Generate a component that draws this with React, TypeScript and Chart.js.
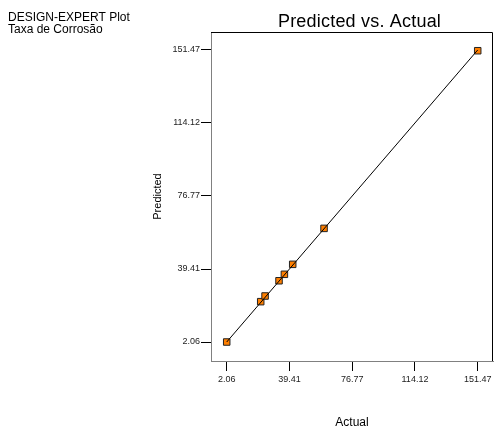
import React, { useEffect, useRef } from "react";
import { Chart, registerables } from "chart.js";

Chart.register(...registerables);

const actual = [2.06, 22.3, 24.9, 33.2, 36.4, 41.35, 60.0, 151.47];
const predicted = [2.06, 22.7, 25.6, 33.4, 36.7, 41.8, 60.2, 151.1];
const tickValues = [2.06, 39.41, 76.77, 114.12, 151.47];
const tickLabels = ["2.06", "39.41", "76.77", "114.12", "151.47"];
const lineEnds = [2.06, 151.47];

const FONT = "'Liberation Sans', Arial, Helvetica, sans-serif";

const decorPlugin = {
  id: "decor",
  beforeDatasetsDraw(chart: any) {
    const { ctx, chartArea } = chart;
    const { left, right, top, bottom } = chartArea;
    ctx.save();
    ctx.strokeStyle = "#000";
    ctx.lineWidth = 1;
    ctx.beginPath();
    ctx.moveTo(left, Math.round(top) + 0.5);
    ctx.lineTo(Math.round(right) - 0.5, Math.round(top) + 0.5);
    ctx.lineTo(Math.round(right) - 0.5, bottom);
    ctx.stroke();
    ctx.restore();
  },
  afterDraw(chart: any) {
    const { ctx } = chart;
    ctx.save();
    ctx.fillStyle = "#000";
    ctx.textBaseline = "alphabetic";
    ctx.textAlign = "left";
    ctx.font = `12px ${FONT}`;
    ctx.fillText("DESIGN-EXPERT Plot", 8, 20.5);
    ctx.fillText("Taxa de Corrosão", 8, 33);
    ctx.textAlign = "center";
    ctx.font = `18px ${FONT}`;
    (ctx as any).letterSpacing = "0.2px";
    ctx.fillText("Predicted vs. Actual", 359.5, 26.5);
    ctx.restore();
  },
};

export default function App() {
  const ref = useRef<HTMLCanvasElement | null>(null);
  useEffect(() => {
    if (!ref.current) return;
    const labelFor = (v: number) => {
      const i = tickValues.findIndex((t) => Math.abs(t - v) < 1e-6);
      return i >= 0 ? tickLabels[i] : "";
    };
    const chart = new Chart(ref.current, {
      type: "scatter",
      data: {
        datasets: [
          {
            type: "line",
            data: lineEnds.map((v) => ({ x: v, y: v })),
            borderColor: "#000",
            borderWidth: 1,
            pointRadius: 0,
            fill: false,
          } as any,
          {
            data: actual.map((a, i) => ({ x: a, y: predicted[i] })),
            pointStyle: "rect",
            pointRadius: 4.6,
            backgroundColor: "#FF7F00",
            borderColor: "#222",
            borderWidth: 1,
          },
        ],
      },
      plugins: [decorPlugin],
      options: {
        responsive: false,
        animation: false,
        events: [],
        layout: { autoPadding: false, padding: { left: 0, right: 1, top: 32, bottom: 0 } },
        plugins: {
          legend: { display: false },
          tooltip: { enabled: false },
          title: { display: false },
        },
        scales: {
          x: {
            type: "linear",
            min: -7.29,
            max: 160.57,
            afterBuildTicks: (s: any) => {
              s.ticks = tickValues.map((v) => ({ value: v }));
            },
            afterFit: (s: any) => {
              s.height = 69;
              s.paddingLeft = 0;
              s.paddingRight = 0;
            },
            ticks: {
              autoSkip: false,
              maxRotation: 0,
              padding: 3,
              color: "#222",
              font: { family: FONT, size: 9 },
              callback: (v: any) => labelFor(Number(v)),
            },
            grid: {
              drawOnChartArea: false,
              drawTicks: true,
              tickLength: 10,
              color: "#000",
            },
            border: { display: true, color: "#808080", width: 1 },
            title: {
              display: true,
              text: "Actual",
              color: "#000",
              font: { family: FONT, size: 12 },
              padding: { top: 0, bottom: 0 },
            },
          },
          y: {
            type: "linear",
            min: -7.66,
            max: 160.68,
            afterBuildTicks: (s: any) => {
              s.ticks = tickValues.map((v) => ({ value: v }));
            },
            afterFit: (s: any) => {
              s.width = 211;
              s.paddingTop = 0;
              s.paddingBottom = 0;
            },
            ticks: {
              autoSkip: false,
              padding: 1,
              color: "#222",
              font: { family: FONT, size: 9 },
              callback: (v: any) => labelFor(Number(v)),
            },
            grid: {
              drawOnChartArea: false,
              drawTicks: true,
              tickLength: 10,
              color: "#000",
            },
            border: { display: true, color: "#808080", width: 1 },
            title: {
              display: true,
              text: "Predicted",
              color: "#000",
              font: { family: FONT, size: 11 },
              padding: { top: 151.4, bottom: 0 },
            },
          },
        },
      },
    } as any);
    return () => chart.destroy();
  }, []);
  return (
    <div style={{ position: "fixed", left: 0, top: 0, width: 494, height: 430, background: "#fff" }}>
      <canvas ref={ref} width={494} height={430} style={{ display: "block" }} />
    </div>
  );
}
